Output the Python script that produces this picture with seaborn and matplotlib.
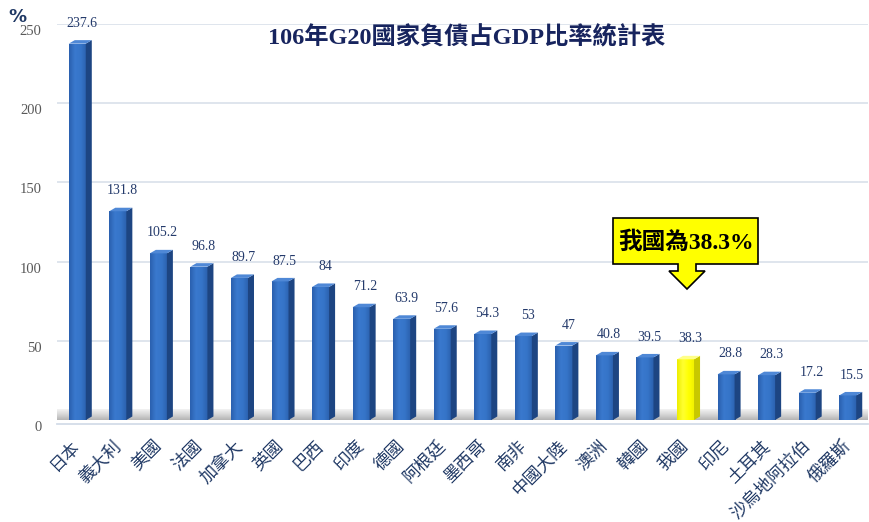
import numpy as np
import matplotlib
matplotlib.use("Agg")
import matplotlib.pyplot as plt
from matplotlib.patches import Polygon
from matplotlib.colors import LinearSegmentedColormap
from matplotlib.transforms import ScaledTranslation
import pandas as pd
import seaborn as sns

# --- data -------------------------------------------------------------
countries = ["日本", "義大利", "美國", "法國", "加拿大", "英國", "巴西", "印度",
             "德國", "阿根廷", "墨西哥", "南非", "中國大陸", "澳洲", "韓國",
             "我國", "印尼", "土耳其", "沙烏地阿拉伯", "俄羅斯"]
debt_ratio = [237.6, 131.8, 105.2, 96.8, 89.7, 87.5, 84, 71.2, 63.9, 57.6,
              54.3, 53, 47, 40.8, 39.5, 38.3, 28.8, 28.3, 17.2, 15.5]
highlight = "我國"
y_ticks = [0, 50, 100, 150, 200, 250]
title = "106年G20國家負債占GDP比率統計表"
callout = "我國為38.3%"
unit = "%"

# --- style ------------------------------------------------------------
sns.set_theme(style="white")
plt.rcParams["font.family"] = ["Liberation Serif", "Noto Sans CJK TC"]

W, H = 869, 522
fig = plt.figure(figsize=(W / 100, H / 100), dpi=100)
fig.patch.set_facecolor("white")
ax = fig.add_axes([57 / W, (H - 420) / H, (868 - 57) / W, (420 - 24) / H])

df = pd.DataFrame({"country": countries, "ratio": debt_ratio})
palette = {c: ("#FFFF00" if c == highlight else "#2F6BBE") for c in countries}
sns.barplot(data=df, x="country", y="ratio", hue="country", palette=palette,
            width=0.42, saturation=1, legend=False, ax=ax, zorder=3,
            linewidth=0)

ax.set_xlim(-0.5, len(countries) - 0.5)
ax.set_ylim(0, 250)

# floor of the chart
floor_cmap = LinearSegmentedColormap.from_list("floor", ["#B4B4B4", "#D6D6D6", "#F2F2F2"])
floor = floor_cmap(np.linspace(0, 1, 32)).reshape(32, 1, 4)
ax.imshow(floor, extent=[-0.5, len(countries) - 0.5, 0, 6.5], aspect="auto",
          origin="lower", zorder=1, interpolation="bilinear")

# 3D-looking faces built from each bar
px_x = (868 - 57) / len(countries)
px_y = (420 - 24) / 250
dx, dy = 6 / px_x, 3.5 / px_y
blue_front = LinearSegmentedColormap.from_list("bf", ["#2A60AE", "#3A79CE", "#3574C8", "#2B60AC"])
yellow_front = LinearSegmentedColormap.from_list("yf", ["#EDED00", "#FFFF30", "#FFFF00", "#F0F000"])
for patch, name in zip(ax.patches, countries):
    x0, w, h = patch.get_x(), patch.get_width(), patch.get_height()
    is_hl = name == highlight
    cmap = yellow_front if is_hl else blue_front
    grad = cmap(np.linspace(0, 1, 64)).reshape(1, 64, 4)
    im = ax.imshow(grad, extent=[x0, x0 + w, 0, h], aspect="auto", zorder=3.1,
                   interpolation="bilinear")
    im.set_clip_path(patch)
    side = Polygon([(x0 + w, 0), (x0 + w + dx, dy), (x0 + w + dx, h + dy), (x0 + w, h)],
                   closed=True, fc="#C8C800" if is_hl else "#1D4582", ec="none", zorder=3.2)
    top = Polygon([(x0, h), (x0 + dx, h + dy), (x0 + w + dx, h + dy), (x0 + w, h)],
                  closed=True, fc="#FFFF88" if is_hl else "#4F88D6", ec="none", zorder=3.2)
    ax.add_patch(side)
    ax.add_patch(top)
    ax.annotate(f"{h:g}", xy=(x0 + w / 2 + dx / 2, h), xytext=(1, 10),
                textcoords="offset points", ha="center", va="bottom",
                fontsize=10, color="#243A6B")

ax.set_xlim(-0.5, len(countries) - 0.5)
ax.set_ylim(0, 250)

# axes and grid
ax.set_xlabel("")
ax.set_ylabel("")
for s in ["left", "right", "top"]:
    ax.spines[s].set_visible(False)
ax.spines["bottom"].set_position(("outward", 3))
ax.spines["bottom"].set_color("#D3DCE8")
ax.spines["bottom"].set_linewidth(1.3)
ax.set_axisbelow(True)
ax.yaxis.grid(True, color="#DCE3EC", linewidth=1.3, zorder=0)
ax.xaxis.grid(False)

ax.set_yticks(y_ticks)
ax.set_yticklabels([str(t) for t in y_ticks])
ax.tick_params(axis="y", length=0, pad=11, labelsize=10.5, labelcolor="#595959")
for lbl in ax.get_yticklabels():
    lbl.set_transform(lbl.get_transform() + ScaledTranslation(0, -6 / 100, fig.dpi_scale_trans))

ax.set_xticks(range(len(countries)))
ax.set_xticklabels(countries, rotation=45, ha="right", va="top",
                   rotation_mode="anchor", fontsize=12.5, color="#1F3864",
                   family=["Noto Sans CJK TC"])
ax.tick_params(axis="x", length=0, pad=9)
for lbl in ax.get_xticklabels():
    lbl.set_transform(lbl.get_transform() + ScaledTranslation(-6 / 100, 0, fig.dpi_scale_trans))

# titles
fig.text(467 / W, 1 - 38 / H, title, ha="center", va="center", fontsize=17.5,
         fontweight="bold", color="#17245E")
fig.text(17 / W, 1 - 17 / H, unit, ha="center", va="center", fontsize=13,
         fontweight="bold", color="#1F3864", family=["DejaVu Sans"])

# callout with downward arrow
outline_px = [(613, 218), (758, 218), (758, 264), (696, 264), (696, 271),
              (705, 271), (687, 289), (669, 271), (678, 271), (678, 264),
              (613, 264)]
outline = Polygon([(x / W, 1 - y / H) for x, y in outline_px], closed=True,
                  transform=fig.transFigure, fc="#FFFF00", ec="black", lw=1.2,
                  zorder=10)
fig.patches.append(outline)
fig.text(686 / W, 1 - 243 / H, callout, ha="center", va="center", fontsize=17,
         fontweight="bold", color="black", zorder=11)

fig.savefig("out.png", dpi=100, facecolor="white")
